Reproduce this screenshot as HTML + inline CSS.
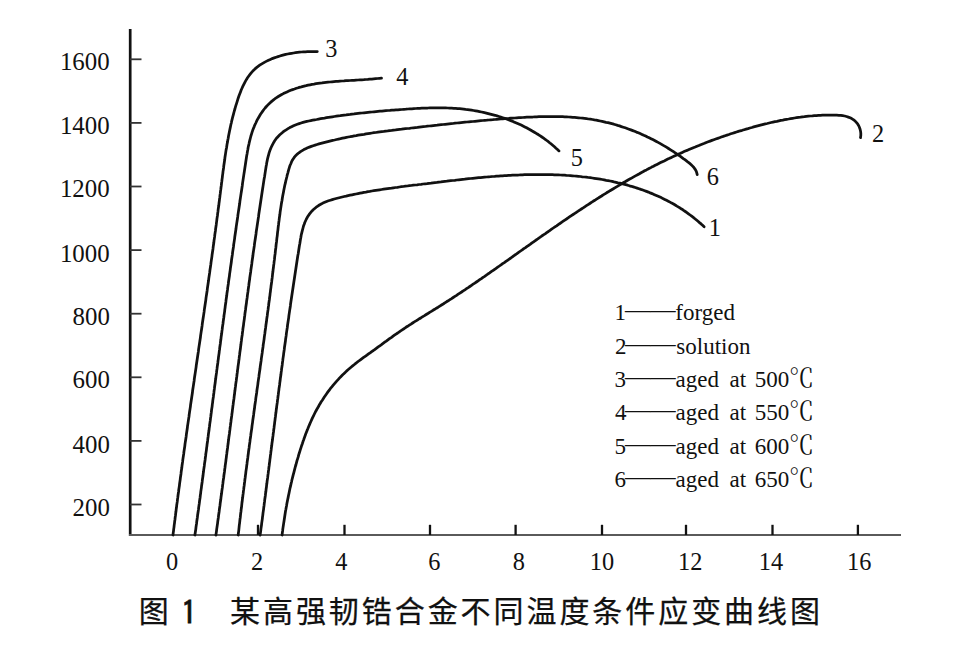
<!DOCTYPE html>
<html><head><meta charset="utf-8"><style>
html,body{margin:0;padding:0;background:#fff;}
svg{display:block;}
text{fill:#111;}
</style></head><body>
<svg width="970" height="653" viewBox="0 0 970 653">
<rect width="970" height="653" fill="#fff"/>
<g stroke="#111" stroke-width="2" fill="none">
<line x1="130.2" y1="29" x2="130.2" y2="536" stroke-width="2.7"/>
<line x1="129" y1="534.9" x2="901" y2="534.9" stroke="#5a5a5a" stroke-width="2"/>
<line x1="130" y1="59.3" x2="141.5" y2="59.3" stroke="#333" stroke-width="1.8"/><line x1="130" y1="122.9" x2="141.5" y2="122.9" stroke="#333" stroke-width="1.8"/><line x1="130" y1="186.5" x2="141.5" y2="186.5" stroke="#333" stroke-width="1.8"/><line x1="130" y1="250.1" x2="141.5" y2="250.1" stroke="#333" stroke-width="1.8"/><line x1="130" y1="313.7" x2="141.5" y2="313.7" stroke="#333" stroke-width="1.8"/><line x1="130" y1="377.3" x2="141.5" y2="377.3" stroke="#333" stroke-width="1.8"/><line x1="130" y1="440.9" x2="141.5" y2="440.9" stroke="#333" stroke-width="1.8"/><line x1="130" y1="504.5" x2="141.5" y2="504.5" stroke="#333" stroke-width="1.8"/><line x1="258.0" y1="535" x2="258.0" y2="524.8" stroke-width="2.3"/><line x1="344.5" y1="535" x2="344.5" y2="524.8" stroke-width="2.3"/><line x1="430.0" y1="535" x2="430.0" y2="524.8" stroke-width="2.3"/><line x1="515.6" y1="535" x2="515.6" y2="524.8" stroke-width="2.3"/><line x1="602.0" y1="535" x2="602.0" y2="524.8" stroke-width="2.3"/><line x1="686.0" y1="535" x2="686.0" y2="524.8" stroke-width="2.3"/><line x1="772.5" y1="535" x2="772.5" y2="524.8" stroke-width="2.3"/><line x1="857.9" y1="535" x2="857.9" y2="524.8" stroke-width="2.3"/>
</g>
<g stroke="#111" stroke-width="2.75" fill="none" stroke-linecap="round" stroke-linejoin="round">
<path d="M173.0,535.0 L173.2,533.0 L173.5,531.1 L173.7,529.1 L174.0,527.1 L174.2,525.1 L174.5,523.1 L174.7,521.2 L175.0,519.2 L175.2,517.2 L175.5,515.2 L175.7,513.3 L176.0,511.3 L176.2,509.3 L176.5,507.3 L176.7,505.3 L177.0,503.4 L177.3,501.4 L177.5,499.4 L177.8,497.4 L178.0,495.5 L178.3,493.5 L178.6,491.5 L178.8,489.5 L179.1,487.6 L179.4,485.6 L179.6,483.6 L179.9,481.6 L180.2,479.6 L180.4,477.7 L180.7,475.7 L181.0,473.7 L181.2,471.7 L181.5,469.8 L181.8,467.8 L182.0,465.8 L182.3,463.8 L182.6,461.9 L182.8,459.9 L183.1,457.9 L183.4,455.9 L183.7,454.0 L183.9,452.0 L184.2,450.0 L184.5,448.0 L184.8,446.1 L185.0,444.1 L185.3,442.1 L185.6,440.2 L185.9,438.2 L186.2,436.2 L186.4,434.2 L186.7,432.3 L187.0,430.3 L187.3,428.3 L187.5,426.3 L187.8,424.4 L188.1,422.4 L188.4,420.4 L188.7,418.4 L189.0,416.5 L189.2,414.5 L189.5,412.5 L189.8,410.5 L190.1,408.6 L190.4,406.6 L190.6,404.6 L190.9,402.7 L191.2,400.7 L191.5,398.7 L191.8,396.7 L192.1,394.8 L192.4,392.8 L192.6,390.8 L192.9,388.8 L193.2,386.9 L193.5,384.9 L193.8,382.9 L194.1,381.0 L194.3,379.0 L194.6,377.0 L194.9,375.0 L195.2,373.1 L195.5,371.1 L195.8,369.1 L196.1,367.1 L196.3,365.2 L196.6,363.2 L196.9,361.2 L197.2,359.3 L197.5,357.3 L197.8,355.3 L198.1,353.3 L198.4,351.4 L198.6,349.4 L198.9,347.4 L199.2,345.4 L199.5,343.5 L199.8,341.5 L200.1,339.5 L200.4,337.6 L200.6,335.6 L200.9,333.6 L201.2,331.6 L201.5,329.7 L201.8,327.7 L202.1,325.7 L202.3,323.8 L202.6,321.8 L202.9,319.8 L203.2,317.8 L203.5,315.9 L203.8,313.9 L204.1,311.9 L204.3,309.9 L204.6,308.0 L204.9,306.0 L205.2,304.0 L205.5,302.0 L205.8,300.1 L206.0,298.1 L206.3,296.1 L206.6,294.2 L206.9,292.2 L207.2,290.2 L207.4,288.2 L207.7,286.3 L208.0,284.3 L208.3,282.3 L208.6,280.3 L208.8,278.4 L209.1,276.4 L209.4,274.4 L209.7,272.4 L209.9,270.5 L210.2,268.5 L210.5,266.5 L210.8,264.5 L211.0,262.6 L211.3,260.6 L211.6,258.6 L211.9,256.6 L212.1,254.7 L212.4,252.7 L212.7,250.7 L213.0,248.7 L213.2,246.8 L213.5,244.8 L213.8,242.8 L214.0,240.8 L214.3,238.9 L214.6,236.9 L214.8,234.9 L215.1,232.9 L215.4,231.0 L215.6,229.0 L215.9,227.0 L216.2,225.0 L216.4,223.1 L216.7,221.1 L216.9,219.1 L217.2,217.1 L217.5,215.2 L217.7,213.2 L218.0,211.2 L218.2,209.2 L218.5,207.2 L218.8,205.3 L219.0,203.3 L219.3,201.3 L219.5,199.3 L219.8,197.4 L220.0,195.4 L220.3,193.4 L220.5,191.4 L220.8,189.4 L221.0,187.5 L221.3,185.5 L221.5,183.5 L221.8,181.5 L222.0,179.6 L222.3,177.6 L222.5,175.6 L222.8,173.6 L223.0,171.6 L223.3,169.7 L223.6,167.7 L223.8,165.7 L224.1,163.7 L224.4,161.8 L224.7,159.8 L224.9,157.8 L225.2,155.8 L225.5,153.9 L225.8,151.9 L226.1,149.9 L226.5,148.0 L226.8,146.0 L227.1,144.0 L227.5,142.1 L227.8,140.1 L228.2,138.2 L228.5,136.2 L228.9,134.3 L229.3,132.3 L229.7,130.3 L230.1,128.4 L230.5,126.5 L230.9,124.5 L231.4,122.6 L231.8,120.6 L232.3,118.7 L232.8,116.7 L233.3,114.8 L233.8,112.9 L234.3,111.0 L234.9,109.0 L235.4,107.1 L236.0,105.2 L236.6,103.3 L237.2,101.4 L237.8,99.4 L238.4,97.5 L239.1,95.6 L239.8,93.8 L240.5,91.9 L241.2,90.0 L242.0,88.2 L242.8,86.4 L243.7,84.6 L244.6,82.8 L245.5,81.1 L246.5,79.4 L247.5,77.8 L248.6,76.2 L249.8,74.6 L251.0,73.1 L252.3,71.6 L253.6,70.2 L255.0,68.9 L256.5,67.6 L258.1,66.4 L259.7,65.2 L261.4,64.1 L263.1,63.1 L264.8,62.1 L266.7,61.1 L268.5,60.2 L270.4,59.4 L272.2,58.6 L274.2,57.9 L276.1,57.2 L278.0,56.6 L279.9,56.0 L281.9,55.4 L283.8,54.9 L285.7,54.4 L287.7,54.0 L289.7,53.6 L291.6,53.3 L293.6,53.0 L295.5,52.7 L297.5,52.4 L299.5,52.2 L301.4,52.0 L303.4,51.9 L305.4,51.8 L307.4,51.7 L309.3,51.6 L311.3,51.5 L313.3,51.5 L315.3,51.5 L317.3,51.5"/>
<path d="M194.9,535.0 L195.2,533.0 L195.5,531.0 L195.8,529.1 L196.0,527.1 L196.3,525.1 L196.6,523.2 L196.8,521.2 L197.1,519.2 L197.4,517.2 L197.6,515.3 L197.9,513.3 L198.2,511.3 L198.5,509.4 L198.7,507.4 L199.0,505.4 L199.3,503.4 L199.5,501.5 L199.8,499.5 L200.1,497.5 L200.3,495.5 L200.6,493.6 L200.8,491.6 L201.1,489.6 L201.4,487.6 L201.6,485.7 L201.9,483.7 L202.2,481.7 L202.4,479.7 L202.7,477.8 L203.0,475.8 L203.2,473.8 L203.5,471.8 L203.7,469.9 L204.0,467.9 L204.3,465.9 L204.5,463.9 L204.8,462.0 L205.1,460.0 L205.3,458.0 L205.6,456.0 L205.8,454.0 L206.1,452.1 L206.4,450.1 L206.6,448.1 L206.9,446.1 L207.1,444.2 L207.4,442.2 L207.7,440.2 L207.9,438.2 L208.2,436.2 L208.4,434.3 L208.7,432.3 L209.0,430.3 L209.2,428.3 L209.5,426.4 L209.7,424.4 L210.0,422.4 L210.3,420.4 L210.5,418.4 L210.8,416.5 L211.0,414.5 L211.3,412.5 L211.5,410.5 L211.8,408.5 L212.1,406.6 L212.3,404.6 L212.6,402.6 L212.8,400.6 L213.1,398.6 L213.4,396.7 L213.6,394.7 L213.9,392.7 L214.1,390.7 L214.4,388.7 L214.6,386.8 L214.9,384.8 L215.2,382.8 L215.4,380.8 L215.7,378.8 L215.9,376.9 L216.2,374.9 L216.5,372.9 L216.7,370.9 L217.0,368.9 L217.2,367.0 L217.5,365.0 L217.8,363.0 L218.0,361.0 L218.3,359.1 L218.5,357.1 L218.8,355.1 L219.1,353.1 L219.3,351.1 L219.6,349.2 L219.8,347.2 L220.1,345.2 L220.4,343.2 L220.6,341.2 L220.9,339.3 L221.1,337.3 L221.4,335.3 L221.7,333.3 L221.9,331.4 L222.2,329.4 L222.4,327.4 L222.7,325.4 L223.0,323.5 L223.2,321.5 L223.5,319.5 L223.8,317.5 L224.0,315.5 L224.3,313.6 L224.6,311.6 L224.8,309.6 L225.1,307.6 L225.3,305.7 L225.6,303.7 L225.9,301.7 L226.1,299.7 L226.4,297.8 L226.7,295.8 L226.9,293.8 L227.2,291.8 L227.5,289.9 L227.7,287.9 L228.0,285.9 L228.3,284.0 L228.5,282.0 L228.8,280.0 L229.1,278.0 L229.4,276.1 L229.6,274.1 L229.9,272.1 L230.2,270.1 L230.4,268.2 L230.7,266.2 L231.0,264.2 L231.3,262.3 L231.5,260.3 L231.8,258.3 L232.1,256.4 L232.4,254.4 L232.6,252.4 L232.9,250.4 L233.2,248.5 L233.5,246.5 L233.7,244.5 L234.0,242.6 L234.3,240.6 L234.6,238.6 L234.8,236.7 L235.1,234.7 L235.4,232.7 L235.7,230.8 L236.0,228.8 L236.2,226.9 L236.5,224.9 L236.8,222.9 L237.1,221.0 L237.4,219.0 L237.7,217.0 L237.9,215.1 L238.2,213.1 L238.5,211.1 L238.8,209.2 L239.1,207.2 L239.4,205.2 L239.7,203.3 L239.9,201.3 L240.2,199.3 L240.5,197.4 L240.8,195.4 L241.1,193.4 L241.4,191.5 L241.7,189.5 L242.0,187.5 L242.3,185.5 L242.5,183.6 L242.8,181.6 L243.1,179.6 L243.4,177.6 L243.7,175.6 L244.0,173.6 L244.3,171.7 L244.6,169.7 L244.9,167.7 L245.2,165.7 L245.5,163.7 L245.8,161.7 L246.1,159.7 L246.4,157.7 L246.7,155.7 L247.1,153.7 L247.4,151.7 L247.8,149.7 L248.1,147.7 L248.5,145.8 L249.0,143.8 L249.4,141.9 L249.9,139.9 L250.4,138.0 L250.9,136.0 L251.5,134.1 L252.1,132.2 L252.7,130.3 L253.4,128.5 L254.2,126.6 L254.9,124.8 L255.8,123.0 L256.6,121.2 L257.5,119.4 L258.5,117.7 L259.5,116.0 L260.5,114.3 L261.6,112.7 L262.7,111.1 L263.9,109.5 L265.1,108.0 L266.4,106.5 L267.7,105.1 L269.1,103.7 L270.5,102.4 L272.0,101.1 L273.5,99.9 L275.0,98.7 L276.6,97.6 L278.3,96.5 L280.0,95.5 L281.7,94.5 L283.4,93.6 L285.2,92.7 L287.0,91.9 L288.9,91.1 L290.7,90.3 L292.6,89.6 L294.5,89.0 L296.4,88.3 L298.4,87.7 L300.3,87.2 L302.2,86.6 L304.2,86.1 L306.1,85.7 L308.1,85.2 L310.1,84.8 L312.0,84.4 L314.0,84.1 L316.0,83.7 L318.0,83.4 L320.0,83.1 L322.0,82.9 L324.0,82.6 L326.0,82.4 L328.0,82.2 L330.0,82.0 L332.0,81.8 L334.0,81.6 L336.0,81.4 L338.0,81.3 L340.0,81.1 L342.0,81.0 L344.0,80.9 L346.0,80.7 L348.0,80.6 L350.0,80.5 L352.0,80.4 L354.0,80.3 L356.0,80.1 L358.0,80.0 L359.9,79.9 L361.9,79.8 L363.9,79.7 L365.9,79.5 L367.8,79.4 L369.8,79.2 L371.8,79.1 L373.7,78.9 L375.7,78.7 L377.6,78.5 L379.5,78.3 L381.5,78.1"/>
<path d="M215.9,535.1 L216.2,533.1 L216.5,531.1 L216.7,529.1 L217.0,527.1 L217.3,525.1 L217.6,523.1 L217.8,521.1 L218.1,519.2 L218.4,517.2 L218.6,515.2 L218.9,513.2 L219.2,511.2 L219.4,509.2 L219.7,507.2 L220.0,505.2 L220.2,503.3 L220.5,501.3 L220.8,499.3 L221.0,497.3 L221.3,495.3 L221.6,493.3 L221.8,491.3 L222.1,489.4 L222.4,487.4 L222.6,485.4 L222.9,483.4 L223.1,481.4 L223.4,479.4 L223.7,477.5 L223.9,475.5 L224.2,473.5 L224.5,471.5 L224.7,469.5 L225.0,467.5 L225.2,465.6 L225.5,463.6 L225.8,461.6 L226.0,459.6 L226.3,457.6 L226.5,455.6 L226.8,453.7 L227.0,451.7 L227.3,449.7 L227.6,447.7 L227.8,445.7 L228.1,443.8 L228.3,441.8 L228.6,439.8 L228.8,437.8 L229.1,435.8 L229.4,433.9 L229.6,431.9 L229.9,429.9 L230.1,427.9 L230.4,425.9 L230.6,424.0 L230.9,422.0 L231.1,420.0 L231.4,418.0 L231.7,416.0 L231.9,414.1 L232.2,412.1 L232.4,410.1 L232.7,408.1 L232.9,406.1 L233.2,404.2 L233.4,402.2 L233.7,400.2 L234.0,398.2 L234.2,396.3 L234.5,394.3 L234.7,392.3 L235.0,390.3 L235.2,388.3 L235.5,386.4 L235.7,384.4 L236.0,382.4 L236.3,380.4 L236.5,378.5 L236.8,376.5 L237.0,374.5 L237.3,372.5 L237.5,370.5 L237.8,368.6 L238.0,366.6 L238.3,364.6 L238.6,362.6 L238.8,360.7 L239.1,358.7 L239.3,356.7 L239.6,354.7 L239.8,352.8 L240.1,350.8 L240.4,348.8 L240.6,346.8 L240.9,344.8 L241.1,342.9 L241.4,340.9 L241.6,338.9 L241.9,336.9 L242.2,335.0 L242.4,333.0 L242.7,331.0 L242.9,329.0 L243.2,327.0 L243.5,325.1 L243.7,323.1 L244.0,321.1 L244.3,319.1 L244.5,317.2 L244.8,315.2 L245.0,313.2 L245.3,311.2 L245.6,309.2 L245.8,307.3 L246.1,305.3 L246.4,303.3 L246.6,301.3 L246.9,299.4 L247.2,297.4 L247.4,295.4 L247.7,293.4 L248.0,291.4 L248.2,289.5 L248.5,287.5 L248.8,285.5 L249.0,283.5 L249.3,281.5 L249.6,279.6 L249.8,277.6 L250.1,275.6 L250.4,273.6 L250.7,271.7 L250.9,269.7 L251.2,267.7 L251.5,265.7 L251.8,263.7 L252.0,261.8 L252.3,259.8 L252.6,257.8 L252.9,255.8 L253.1,253.8 L253.4,251.8 L253.7,249.9 L254.0,247.9 L254.3,245.9 L254.5,243.9 L254.8,241.9 L255.1,240.0 L255.4,238.0 L255.7,236.0 L256.0,234.0 L256.2,232.0 L256.5,230.0 L256.8,228.1 L257.1,226.1 L257.4,224.1 L257.7,222.1 L258.0,220.1 L258.3,218.1 L258.6,216.2 L258.8,214.2 L259.1,212.2 L259.4,210.2 L259.7,208.2 L260.0,206.2 L260.3,204.2 L260.6,202.3 L260.9,200.3 L261.2,198.3 L261.5,196.3 L261.8,194.3 L262.1,192.3 L262.4,190.3 L262.7,188.3 L263.0,186.4 L263.3,184.4 L263.6,182.4 L263.9,180.4 L264.2,178.4 L264.6,176.4 L264.9,174.4 L265.2,172.4 L265.5,170.4 L265.8,168.5 L266.1,166.5 L266.5,164.5 L266.8,162.5 L267.2,160.6 L267.6,158.6 L268.1,156.7 L268.6,154.8 L269.1,152.9 L269.7,151.1 L270.4,149.3 L271.1,147.5 L271.9,145.8 L272.8,144.1 L273.7,142.4 L274.7,140.8 L275.8,139.2 L277.0,137.7 L278.4,136.2 L279.8,134.8 L281.3,133.5 L282.8,132.2 L284.5,130.9 L286.2,129.8 L288.0,128.7 L289.8,127.6 L291.6,126.7 L293.5,125.8 L295.4,125.0 L297.3,124.3 L299.2,123.6 L301.1,123.0 L303.0,122.4 L304.9,121.9 L306.9,121.4 L308.8,121.0 L310.8,120.6 L312.7,120.2 L314.7,119.8 L316.6,119.5 L318.6,119.1 L320.6,118.7 L322.5,118.4 L324.5,118.1 L326.5,117.7 L328.4,117.4 L330.4,117.1 L332.4,116.8 L334.3,116.5 L336.3,116.2 L338.3,115.9 L340.3,115.7 L342.2,115.4 L344.2,115.1 L346.2,114.9 L348.2,114.6 L350.1,114.4 L352.1,114.1 L354.1,113.9 L356.1,113.6 L358.1,113.4 L360.1,113.2 L362.0,113.0 L364.0,112.8 L366.0,112.6 L368.0,112.4 L370.0,112.2 L372.0,112.0 L374.0,111.8 L376.0,111.6 L378.0,111.4 L379.9,111.2 L381.9,111.1 L383.9,110.9 L385.9,110.7 L387.9,110.5 L389.9,110.4 L391.9,110.2 L393.9,110.1 L395.9,109.9 L397.9,109.8 L399.9,109.6 L401.9,109.5 L403.9,109.3 L405.9,109.2 L407.9,109.0 L409.8,108.9 L411.8,108.8 L413.8,108.6 L415.8,108.5 L417.8,108.4 L419.8,108.3 L421.8,108.2 L423.8,108.1 L425.8,108.0 L427.8,108.0 L429.8,107.9 L431.8,107.9 L433.8,107.8 L435.8,107.8 L437.8,107.8 L439.8,107.8 L441.7,107.8 L443.7,107.9 L445.7,107.9 L447.7,108.0 L449.7,108.1 L451.7,108.2 L453.7,108.3 L455.7,108.4 L457.7,108.6 L459.7,108.7 L461.7,108.9 L463.7,109.1 L465.6,109.4 L467.6,109.6 L469.6,109.9 L471.6,110.2 L473.6,110.5 L475.6,110.8 L477.5,111.2 L479.5,111.6 L481.5,112.0 L483.4,112.4 L485.4,112.8 L487.3,113.3 L489.3,113.8 L491.2,114.3 L493.2,114.8 L495.1,115.3 L497.0,115.9 L498.9,116.5 L500.8,117.1 L502.7,117.7 L504.6,118.3 L506.5,119.0 L508.4,119.7 L510.2,120.4 L512.1,121.1 L513.9,121.9 L515.8,122.7 L517.6,123.5 L519.4,124.3 L521.2,125.1 L523.0,126.0 L524.8,126.9 L526.6,127.8 L528.3,128.7 L530.1,129.7 L531.8,130.7 L533.5,131.7 L535.2,132.7 L536.9,133.8 L538.6,134.8 L540.3,135.9 L541.9,137.0 L543.6,138.2 L545.2,139.3 L546.8,140.5 L548.4,141.7 L549.9,143.0 L551.5,144.2 L553.0,145.5 L554.5,146.8 L556.0,148.2 L557.5,149.5 L559.0,150.9"/>
<path d="M238.2,535.0 L238.4,533.0 L238.7,531.1 L238.9,529.1 L239.1,527.1 L239.3,525.1 L239.6,523.1 L239.8,521.1 L240.0,519.2 L240.3,517.2 L240.5,515.2 L240.7,513.2 L241.0,511.2 L241.2,509.2 L241.5,507.3 L241.7,505.3 L241.9,503.3 L242.2,501.3 L242.4,499.3 L242.7,497.3 L242.9,495.4 L243.2,493.4 L243.4,491.4 L243.7,489.4 L243.9,487.4 L244.2,485.5 L244.4,483.5 L244.7,481.5 L244.9,479.5 L245.2,477.5 L245.4,475.6 L245.7,473.6 L245.9,471.6 L246.2,469.6 L246.5,467.6 L246.7,465.7 L247.0,463.7 L247.2,461.7 L247.5,459.7 L247.8,457.7 L248.0,455.8 L248.3,453.8 L248.5,451.8 L248.8,449.8 L249.1,447.9 L249.3,445.9 L249.6,443.9 L249.9,441.9 L250.1,439.9 L250.4,438.0 L250.7,436.0 L250.9,434.0 L251.2,432.0 L251.5,430.1 L251.8,428.1 L252.0,426.1 L252.3,424.1 L252.6,422.1 L252.8,420.2 L253.1,418.2 L253.4,416.2 L253.7,414.2 L253.9,412.3 L254.2,410.3 L254.5,408.3 L254.7,406.3 L255.0,404.3 L255.3,402.4 L255.6,400.4 L255.8,398.4 L256.1,396.4 L256.4,394.5 L256.7,392.5 L256.9,390.5 L257.2,388.5 L257.5,386.6 L257.8,384.6 L258.0,382.6 L258.3,380.6 L258.6,378.6 L258.9,376.7 L259.1,374.7 L259.4,372.7 L259.7,370.7 L260.0,368.8 L260.2,366.8 L260.5,364.8 L260.8,362.8 L261.1,360.9 L261.3,358.9 L261.6,356.9 L261.9,354.9 L262.2,352.9 L262.4,351.0 L262.7,349.0 L263.0,347.0 L263.2,345.0 L263.5,343.1 L263.8,341.1 L264.1,339.1 L264.3,337.1 L264.6,335.1 L264.9,333.2 L265.1,331.2 L265.4,329.2 L265.7,327.2 L265.9,325.3 L266.2,323.3 L266.5,321.3 L266.7,319.3 L267.0,317.3 L267.3,315.4 L267.5,313.4 L267.8,311.4 L268.1,309.4 L268.3,307.4 L268.6,305.5 L268.8,303.5 L269.1,301.5 L269.4,299.5 L269.6,297.5 L269.9,295.6 L270.1,293.6 L270.4,291.6 L270.6,289.6 L270.9,287.6 L271.1,285.7 L271.4,283.7 L271.7,281.7 L271.9,279.7 L272.2,277.7 L272.4,275.8 L272.6,273.8 L272.9,271.8 L273.1,269.8 L273.4,267.8 L273.6,265.8 L273.9,263.9 L274.1,261.9 L274.4,259.9 L274.6,257.9 L274.8,255.9 L275.1,254.0 L275.3,252.0 L275.5,250.0 L275.8,248.0 L276.0,246.0 L276.2,244.0 L276.5,242.0 L276.7,240.1 L276.9,238.1 L277.2,236.1 L277.4,234.1 L277.6,232.1 L277.9,230.1 L278.1,228.2 L278.3,226.2 L278.6,224.2 L278.8,222.2 L279.1,220.2 L279.3,218.3 L279.6,216.3 L279.9,214.3 L280.1,212.3 L280.4,210.3 L280.7,208.4 L281.0,206.4 L281.3,204.4 L281.6,202.5 L282.0,200.5 L282.3,198.5 L282.6,196.6 L283.0,194.6 L283.4,192.6 L283.7,190.7 L284.1,188.7 L284.5,186.8 L284.9,184.8 L285.4,182.9 L285.8,180.9 L286.3,179.0 L286.8,177.0 L287.2,175.1 L287.8,173.1 L288.3,171.2 L288.8,169.3 L289.4,167.4 L290.0,165.5 L290.8,163.7 L291.5,161.9 L292.4,160.1 L293.5,158.5 L294.6,156.9 L295.9,155.4 L297.3,154.1 L298.9,152.8 L300.5,151.6 L302.2,150.6 L303.9,149.6 L305.7,148.7 L307.6,147.8 L309.4,147.1 L311.3,146.4 L313.2,145.7 L315.1,145.1 L317.1,144.5 L319.0,143.9 L320.9,143.4 L322.9,142.9 L324.8,142.4 L326.8,141.9 L328.8,141.4 L330.7,140.9 L332.7,140.4 L334.6,140.0 L336.6,139.5 L338.5,139.1 L340.5,138.7 L342.5,138.2 L344.4,137.8 L346.4,137.4 L348.3,137.0 L350.3,136.7 L352.3,136.3 L354.2,135.9 L356.2,135.6 L358.2,135.2 L360.1,134.9 L362.1,134.6 L364.1,134.3 L366.0,133.9 L368.0,133.6 L370.0,133.3 L372.0,133.0 L373.9,132.7 L375.9,132.5 L377.9,132.2 L379.8,131.9 L381.8,131.6 L383.8,131.4 L385.8,131.1 L387.7,130.9 L389.7,130.6 L391.7,130.4 L393.7,130.1 L395.6,129.9 L397.6,129.6 L399.6,129.4 L401.6,129.2 L403.6,128.9 L405.5,128.7 L407.5,128.5 L409.5,128.3 L411.5,128.0 L413.4,127.8 L415.4,127.6 L417.4,127.4 L419.4,127.1 L421.4,126.9 L423.3,126.7 L425.3,126.5 L427.3,126.2 L429.3,126.0 L431.3,125.8 L433.2,125.6 L435.2,125.4 L437.2,125.2 L439.2,124.9 L441.2,124.7 L443.1,124.5 L445.1,124.3 L447.1,124.1 L449.1,123.9 L451.1,123.7 L453.0,123.5 L455.0,123.2 L457.0,123.0 L459.0,122.8 L461.0,122.6 L463.0,122.4 L465.0,122.2 L466.9,122.0 L468.9,121.8 L470.9,121.6 L472.9,121.5 L474.9,121.3 L476.9,121.1 L478.9,120.9 L480.8,120.7 L482.8,120.5 L484.8,120.3 L486.8,120.2 L488.8,120.0 L490.8,119.8 L492.8,119.7 L494.8,119.5 L496.8,119.3 L498.8,119.2 L500.8,119.0 L502.8,118.8 L504.8,118.7 L506.8,118.5 L508.8,118.4 L510.8,118.2 L512.8,118.1 L514.8,118.0 L516.8,117.8 L518.8,117.7 L520.8,117.6 L522.8,117.5 L524.8,117.3 L526.8,117.2 L528.8,117.1 L530.8,117.0 L532.8,117.0 L534.8,116.9 L536.8,116.8 L538.8,116.7 L540.8,116.7 L542.8,116.6 L544.8,116.6 L546.8,116.6 L548.8,116.5 L550.8,116.5 L552.8,116.5 L554.8,116.6 L556.8,116.6 L558.8,116.6 L560.8,116.7 L562.7,116.7 L564.7,116.8 L566.7,116.9 L568.7,117.0 L570.7,117.1 L572.7,117.3 L574.7,117.4 L576.6,117.6 L578.6,117.8 L580.6,118.0 L582.6,118.2 L584.5,118.4 L586.5,118.7 L588.5,119.0 L590.4,119.2 L592.4,119.5 L594.4,119.9 L596.3,120.2 L598.3,120.6 L600.2,121.0 L602.2,121.4 L604.1,121.8 L606.0,122.3 L608.0,122.7 L609.9,123.2 L611.8,123.7 L613.8,124.2 L615.7,124.8 L617.6,125.4 L619.5,125.9 L621.4,126.6 L623.3,127.2 L625.2,127.8 L627.1,128.5 L629.0,129.2 L630.9,129.9 L632.7,130.6 L634.6,131.3 L636.4,132.1 L638.3,132.8 L640.1,133.6 L642.0,134.4 L643.8,135.3 L645.6,136.1 L647.4,137.0 L649.2,137.8 L651.0,138.7 L652.8,139.6 L654.6,140.5 L656.4,141.5 L658.1,142.4 L659.9,143.4 L661.6,144.4 L663.3,145.4 L665.1,146.4 L666.8,147.4 L668.5,148.5 L670.2,149.6 L671.8,150.6 L673.5,151.7 L675.2,152.8 L676.8,153.9 L678.5,155.1 L680.1,156.2 L681.7,157.4 L683.3,158.6 L684.9,159.7 L686.5,160.9 L688.1,162.2 L689.7,163.4 L691.2,164.7 L692.6,166.1 L693.9,167.5 L695.0,169.1 L696.0,170.7 L696.7,172.6 L697.2,174.6"/>
<path d="M260.1,535.1 L260.4,533.1 L260.7,531.1 L260.9,529.1 L261.2,527.1 L261.5,525.1 L261.7,523.1 L262.0,521.1 L262.3,519.1 L262.5,517.1 L262.8,515.1 L263.0,513.1 L263.3,511.1 L263.6,509.1 L263.8,507.2 L264.1,505.2 L264.3,503.2 L264.6,501.2 L264.8,499.2 L265.1,497.2 L265.4,495.2 L265.6,493.2 L265.9,491.3 L266.1,489.3 L266.4,487.3 L266.6,485.3 L266.9,483.3 L267.1,481.3 L267.4,479.4 L267.7,477.4 L267.9,475.4 L268.2,473.4 L268.4,471.4 L268.7,469.5 L268.9,467.5 L269.2,465.5 L269.4,463.5 L269.7,461.6 L269.9,459.6 L270.2,457.6 L270.4,455.6 L270.7,453.7 L270.9,451.7 L271.2,449.7 L271.4,447.7 L271.7,445.8 L271.9,443.8 L272.2,441.8 L272.5,439.8 L272.7,437.9 L273.0,435.9 L273.2,433.9 L273.5,432.0 L273.7,430.0 L274.0,428.0 L274.2,426.1 L274.5,424.1 L274.7,422.1 L275.0,420.1 L275.2,418.2 L275.5,416.2 L275.7,414.2 L276.0,412.3 L276.2,410.3 L276.5,408.3 L276.7,406.4 L277.0,404.4 L277.3,402.4 L277.5,400.4 L277.8,398.5 L278.0,396.5 L278.3,394.5 L278.5,392.6 L278.8,390.6 L279.0,388.6 L279.3,386.7 L279.6,384.7 L279.8,382.7 L280.1,380.8 L280.3,378.8 L280.6,376.8 L280.9,374.8 L281.1,372.9 L281.4,370.9 L281.6,368.9 L281.9,367.0 L282.2,365.0 L282.4,363.0 L282.7,361.0 L282.9,359.1 L283.2,357.1 L283.5,355.1 L283.7,353.2 L284.0,351.2 L284.3,349.2 L284.5,347.2 L284.8,345.3 L285.1,343.3 L285.4,341.3 L285.6,339.3 L285.9,337.4 L286.2,335.4 L286.4,333.4 L286.7,331.4 L287.0,329.4 L287.3,327.5 L287.5,325.5 L287.8,323.5 L288.1,321.5 L288.4,319.6 L288.7,317.6 L288.9,315.6 L289.2,313.6 L289.5,311.6 L289.8,309.6 L290.1,307.7 L290.4,305.7 L290.6,303.7 L290.9,301.7 L291.2,299.7 L291.5,297.7 L291.8,295.7 L292.1,293.7 L292.4,291.8 L292.7,289.8 L293.0,287.8 L293.3,285.8 L293.6,283.8 L293.9,281.8 L294.2,279.8 L294.5,277.8 L294.8,275.8 L295.1,273.8 L295.4,271.8 L295.7,269.8 L296.0,267.8 L296.3,265.8 L296.6,263.8 L296.9,261.8 L297.2,259.8 L297.5,257.8 L297.8,255.8 L298.2,253.8 L298.5,251.8 L298.8,249.8 L299.1,247.8 L299.4,245.8 L299.8,243.8 L300.1,241.7 L300.4,239.7 L300.8,237.7 L301.1,235.7 L301.5,233.8 L302.0,231.8 L302.5,229.9 L303.0,228.0 L303.5,226.1 L304.2,224.3 L304.8,222.5 L305.6,220.7 L306.4,219.0 L307.3,217.3 L308.3,215.7 L309.4,214.1 L310.6,212.6 L311.8,211.2 L313.2,209.8 L314.7,208.5 L316.2,207.2 L317.8,206.1 L319.4,205.0 L321.2,204.0 L322.9,203.1 L324.7,202.3 L326.6,201.5 L328.5,200.8 L330.4,200.2 L332.3,199.6 L334.3,199.0 L336.2,198.5 L338.2,198.0 L340.2,197.5 L342.2,197.0 L344.2,196.5 L346.1,196.1 L348.1,195.6 L350.1,195.2 L352.1,194.8 L354.0,194.4 L356.0,194.0 L358.0,193.6 L360.0,193.2 L361.9,192.8 L363.9,192.4 L365.9,192.1 L367.9,191.7 L369.8,191.4 L371.8,191.0 L373.8,190.7 L375.8,190.4 L377.7,190.1 L379.7,189.8 L381.7,189.5 L383.6,189.2 L385.6,188.9 L387.6,188.6 L389.5,188.3 L391.5,188.1 L393.5,187.8 L395.5,187.5 L397.4,187.3 L399.4,187.0 L401.4,186.7 L403.3,186.5 L405.3,186.2 L407.3,186.0 L409.3,185.7 L411.2,185.5 L413.2,185.2 L415.2,185.0 L417.1,184.8 L419.1,184.5 L421.1,184.3 L423.1,184.0 L425.1,183.8 L427.0,183.6 L429.0,183.3 L431.0,183.1 L433.0,182.8 L434.9,182.6 L436.9,182.4 L438.9,182.1 L440.9,181.9 L442.9,181.6 L444.9,181.4 L446.8,181.2 L448.8,180.9 L450.8,180.7 L452.8,180.5 L454.8,180.3 L456.8,180.0 L458.8,179.8 L460.7,179.6 L462.7,179.4 L464.7,179.2 L466.7,178.9 L468.7,178.7 L470.7,178.5 L472.7,178.3 L474.7,178.1 L476.7,177.9 L478.6,177.7 L480.6,177.6 L482.6,177.4 L484.6,177.2 L486.6,177.0 L488.6,176.8 L490.6,176.7 L492.6,176.5 L494.6,176.4 L496.6,176.2 L498.6,176.1 L500.6,175.9 L502.6,175.8 L504.5,175.7 L506.5,175.6 L508.5,175.4 L510.5,175.3 L512.5,175.2 L514.5,175.1 L516.5,175.0 L518.5,175.0 L520.5,174.9 L522.5,174.8 L524.5,174.7 L526.5,174.7 L528.5,174.6 L530.5,174.6 L532.5,174.6 L534.5,174.5 L536.5,174.5 L538.5,174.5 L540.5,174.5 L542.5,174.5 L544.5,174.5 L546.5,174.6 L548.4,174.6 L550.4,174.7 L552.4,174.7 L554.4,174.8 L556.4,174.8 L558.4,174.9 L560.4,175.0 L562.4,175.1 L564.4,175.2 L566.4,175.4 L568.4,175.5 L570.4,175.6 L572.4,175.8 L574.4,176.0 L576.4,176.1 L578.4,176.3 L580.4,176.5 L582.3,176.8 L584.3,177.0 L586.3,177.2 L588.3,177.5 L590.3,177.7 L592.3,178.0 L594.3,178.3 L596.3,178.6 L598.3,178.9 L600.2,179.2 L602.2,179.5 L604.2,179.9 L606.2,180.3 L608.1,180.6 L610.1,181.0 L612.1,181.4 L614.0,181.9 L616.0,182.3 L617.9,182.8 L619.9,183.2 L621.8,183.7 L623.7,184.2 L625.7,184.7 L627.6,185.2 L629.5,185.8 L631.4,186.3 L633.3,186.9 L635.3,187.5 L637.1,188.1 L639.0,188.7 L640.9,189.4 L642.8,190.0 L644.7,190.7 L646.5,191.4 L648.4,192.1 L650.2,192.9 L652.1,193.6 L653.9,194.4 L655.7,195.2 L657.6,196.0 L659.4,196.8 L661.2,197.6 L662.9,198.5 L664.7,199.4 L666.5,200.3 L668.3,201.2 L670.0,202.1 L671.7,203.1 L673.5,204.0 L675.2,205.0 L676.9,206.1 L678.6,207.1 L680.3,208.2 L682.0,209.2 L683.6,210.4 L685.3,211.5 L686.9,212.6 L688.5,213.8 L690.1,215.0 L691.7,216.2 L693.3,217.4 L694.9,218.7 L696.5,220.0 L698.0,221.3 L699.5,222.6 L701.1,223.9 L702.6,225.3 L704.1,226.7"/>
<path d="M282.1,535.0 L282.3,533.0 L282.6,531.0 L282.8,529.1 L283.1,527.1 L283.4,525.1 L283.7,523.1 L284.0,521.2 L284.3,519.2 L284.6,517.2 L284.9,515.3 L285.2,513.3 L285.5,511.3 L285.9,509.3 L286.2,507.4 L286.6,505.4 L286.9,503.5 L287.3,501.5 L287.7,499.5 L288.1,497.6 L288.5,495.6 L288.9,493.7 L289.3,491.7 L289.7,489.8 L290.1,487.8 L290.6,485.9 L291.0,483.9 L291.5,482.0 L291.9,480.0 L292.4,478.1 L292.9,476.1 L293.4,474.2 L293.9,472.3 L294.4,470.3 L294.9,468.4 L295.4,466.5 L296.0,464.5 L296.5,462.6 L297.0,460.7 L297.6,458.8 L298.2,456.9 L298.7,454.9 L299.3,453.0 L299.9,451.1 L300.5,449.2 L301.1,447.3 L301.7,445.4 L302.4,443.5 L303.0,441.6 L303.7,439.7 L304.3,437.9 L305.0,436.0 L305.7,434.1 L306.4,432.2 L307.1,430.4 L307.9,428.5 L308.6,426.7 L309.4,424.9 L310.2,423.0 L311.0,421.2 L311.8,419.4 L312.6,417.6 L313.5,415.8 L314.4,414.0 L315.3,412.2 L316.2,410.5 L317.2,408.7 L318.2,407.0 L319.1,405.3 L320.2,403.5 L321.2,401.8 L322.3,400.2 L323.4,398.5 L324.5,396.8 L325.6,395.2 L326.8,393.5 L327.9,391.9 L329.1,390.3 L330.3,388.7 L331.6,387.2 L332.8,385.6 L334.1,384.1 L335.4,382.6 L336.7,381.1 L338.1,379.6 L339.4,378.1 L340.8,376.7 L342.2,375.3 L343.6,373.9 L345.1,372.5 L346.5,371.1 L348.0,369.8 L349.5,368.5 L351.0,367.2 L352.6,365.9 L354.1,364.7 L355.7,363.4 L357.2,362.2 L358.8,361.0 L360.4,359.8 L362.0,358.6 L363.6,357.4 L365.2,356.3 L366.9,355.1 L368.5,353.9 L370.1,352.8 L371.7,351.6 L373.4,350.5 L375.0,349.3 L376.6,348.1 L378.2,346.9 L379.8,345.8 L381.5,344.6 L383.1,343.4 L384.7,342.2 L386.3,341.1 L387.9,339.9 L389.5,338.7 L391.2,337.6 L392.8,336.4 L394.4,335.2 L396.0,334.1 L397.7,333.0 L399.3,331.8 L401.0,330.7 L402.6,329.6 L404.3,328.5 L405.9,327.3 L407.6,326.3 L409.3,325.2 L411.0,324.1 L412.6,323.0 L414.3,321.9 L416.0,320.9 L417.7,319.8 L419.4,318.7 L421.1,317.7 L422.8,316.6 L424.5,315.6 L426.2,314.5 L427.9,313.5 L429.6,312.4 L431.3,311.4 L433.0,310.3 L434.7,309.3 L436.4,308.2 L438.1,307.2 L439.8,306.1 L441.5,305.0 L443.2,304.0 L444.8,302.9 L446.5,301.8 L448.2,300.8 L449.9,299.7 L451.6,298.6 L453.2,297.5 L454.9,296.4 L456.6,295.3 L458.2,294.2 L459.9,293.1 L461.6,292.0 L463.2,290.9 L464.9,289.8 L466.5,288.7 L468.2,287.6 L469.8,286.5 L471.5,285.3 L473.1,284.2 L474.8,283.1 L476.4,282.0 L478.1,280.8 L479.7,279.7 L481.4,278.6 L483.0,277.4 L484.7,276.3 L486.3,275.2 L487.9,274.0 L489.6,272.9 L491.2,271.7 L492.8,270.6 L494.5,269.5 L496.1,268.3 L497.7,267.2 L499.4,266.0 L501.0,264.9 L502.6,263.7 L504.3,262.6 L505.9,261.4 L507.5,260.3 L509.2,259.1 L510.8,258.0 L512.4,256.8 L514.0,255.6 L515.7,254.5 L517.3,253.3 L518.9,252.2 L520.6,251.0 L522.2,249.9 L523.8,248.7 L525.5,247.6 L527.1,246.4 L528.7,245.3 L530.4,244.1 L532.0,242.9 L533.6,241.8 L535.3,240.6 L536.9,239.5 L538.5,238.3 L540.2,237.2 L541.8,236.0 L543.4,234.9 L545.1,233.8 L546.7,232.6 L548.4,231.5 L550.0,230.3 L551.6,229.2 L553.3,228.0 L554.9,226.9 L556.6,225.8 L558.2,224.6 L559.9,223.5 L561.5,222.4 L563.2,221.2 L564.8,220.1 L566.5,219.0 L568.1,217.9 L569.8,216.7 L571.4,215.6 L573.1,214.5 L574.8,213.4 L576.4,212.3 L578.1,211.2 L579.7,210.1 L581.4,209.0 L583.1,207.9 L584.7,206.8 L586.4,205.7 L588.1,204.6 L589.8,203.5 L591.4,202.4 L593.1,201.3 L594.8,200.3 L596.5,199.2 L598.2,198.1 L599.9,197.0 L601.6,196.0 L603.2,194.9 L604.9,193.9 L606.6,192.8 L608.3,191.8 L610.0,190.7 L611.7,189.7 L613.4,188.7 L615.2,187.6 L616.9,186.6 L618.6,185.6 L620.3,184.6 L622.0,183.5 L623.7,182.5 L625.5,181.5 L627.2,180.5 L628.9,179.5 L630.7,178.6 L632.4,177.6 L634.1,176.6 L635.9,175.6 L637.6,174.7 L639.4,173.7 L641.1,172.7 L642.9,171.8 L644.6,170.8 L646.4,169.9 L648.1,169.0 L649.9,168.1 L651.7,167.1 L653.5,166.2 L655.2,165.3 L657.0,164.4 L658.8,163.5 L660.6,162.6 L662.4,161.7 L664.2,160.9 L666.0,160.0 L667.8,159.1 L669.6,158.3 L671.4,157.4 L673.2,156.6 L675.0,155.7 L676.8,154.9 L678.7,154.1 L680.5,153.3 L682.3,152.4 L684.1,151.6 L686.0,150.8 L687.8,150.1 L689.6,149.3 L691.5,148.5 L693.3,147.7 L695.2,147.0 L697.0,146.2 L698.9,145.5 L700.7,144.7 L702.6,144.0 L704.5,143.3 L706.3,142.5 L708.2,141.8 L710.1,141.1 L711.9,140.4 L713.8,139.7 L715.7,139.0 L717.6,138.4 L719.5,137.7 L721.3,137.0 L723.2,136.4 L725.1,135.7 L727.0,135.1 L728.9,134.5 L730.8,133.8 L732.7,133.2 L734.6,132.6 L736.5,132.0 L738.4,131.4 L740.3,130.8 L742.2,130.3 L744.1,129.7 L746.1,129.1 L748.0,128.6 L749.9,128.0 L751.8,127.5 L753.7,126.9 L755.6,126.4 L757.6,125.9 L759.5,125.4 L761.4,124.9 L763.4,124.4 L765.3,123.9 L767.2,123.5 L769.2,123.0 L771.1,122.5 L773.0,122.1 L775.0,121.7 L776.9,121.3 L778.9,120.8 L780.8,120.4 L782.8,120.1 L784.7,119.7 L786.7,119.3 L788.6,119.0 L790.6,118.6 L792.6,118.3 L794.5,118.0 L796.5,117.7 L798.5,117.4 L800.5,117.2 L802.5,116.9 L804.4,116.7 L806.4,116.4 L808.4,116.2 L810.4,116.0 L812.4,115.9 L814.4,115.7 L816.4,115.6 L818.5,115.4 L820.5,115.3 L822.5,115.2 L824.5,115.2 L826.6,115.1 L828.6,115.1 L830.6,115.1 L832.7,115.1 L834.7,115.1 L836.8,115.2 L838.8,115.3 L840.8,115.4 L842.7,115.7 L844.7,116.0 L846.5,116.5 L848.3,117.1 L850.1,117.8 L851.7,118.6 L853.3,119.6 L854.8,120.8 L856.1,122.1 L857.4,123.6 L858.4,125.2 L859.3,127.0 L860.0,128.9 L860.5,131.0 L860.8,133.1 L860.8,135.4 L860.5,137.7"/>
</g>
<text transform="translate(59.90 70.00) scale(0.9760 1)" style="font-family:'Liberation Serif',serif;font-size:25.50px;">1600</text><text transform="translate(59.90 133.90) scale(0.9760 1)" style="font-family:'Liberation Serif',serif;font-size:25.50px;">1400</text><text transform="translate(59.90 197.00) scale(0.9760 1)" style="font-family:'Liberation Serif',serif;font-size:25.50px;">1200</text><text transform="translate(59.90 262.00) scale(0.9760 1)" style="font-family:'Liberation Serif',serif;font-size:25.50px;">1000</text><text transform="translate(72.59 325.10) scale(0.9760 1)" style="font-family:'Liberation Serif',serif;font-size:25.50px;">800</text><text transform="translate(72.59 388.00) scale(0.9760 1)" style="font-family:'Liberation Serif',serif;font-size:25.50px;">600</text><text transform="translate(72.59 453.00) scale(0.9760 1)" style="font-family:'Liberation Serif',serif;font-size:25.50px;">400</text><text transform="translate(72.59 516.20) scale(0.9760 1)" style="font-family:'Liberation Serif',serif;font-size:25.50px;">200</text><text transform="translate(166.10 569.70) scale(0.9540 1)" style="font-family:'Liberation Serif',serif;font-size:25.50px;">0</text><text transform="translate(251.00 569.70) scale(0.9540 1)" style="font-family:'Liberation Serif',serif;font-size:25.50px;">2</text><text transform="translate(335.30 569.70) scale(0.9540 1)" style="font-family:'Liberation Serif',serif;font-size:25.50px;">4</text><text transform="translate(428.30 569.70) scale(0.9540 1)" style="font-family:'Liberation Serif',serif;font-size:25.50px;">6</text><text transform="translate(512.80 569.70) scale(0.9540 1)" style="font-family:'Liberation Serif',serif;font-size:25.50px;">8</text><text transform="translate(589.72 569.70) scale(0.9540 1)" style="font-family:'Liberation Serif',serif;font-size:25.50px;">10</text><text transform="translate(678.10 569.70) scale(0.9540 1)" style="font-family:'Liberation Serif',serif;font-size:25.50px;">12</text><text transform="translate(758.82 569.70) scale(0.9540 1)" style="font-family:'Liberation Serif',serif;font-size:25.50px;">14</text><text transform="translate(847.12 569.70) scale(0.9540 1)" style="font-family:'Liberation Serif',serif;font-size:25.50px;">16</text><text transform="translate(325.15 57.30) scale(0.9540 1)" style="font-family:'Liberation Serif',serif;font-size:25.50px;">3</text><text transform="translate(396.30 84.70) scale(0.9540 1)" style="font-family:'Liberation Serif',serif;font-size:25.50px;">4</text><text transform="translate(570.70 165.90) scale(0.9540 1)" style="font-family:'Liberation Serif',serif;font-size:25.50px;">5</text><text transform="translate(706.80 185.20) scale(0.9540 1)" style="font-family:'Liberation Serif',serif;font-size:25.50px;">6</text><text transform="translate(708.65 235.50) scale(0.9540 1)" style="font-family:'Liberation Serif',serif;font-size:25.50px;">1</text><text transform="translate(871.90 141.80) scale(0.9540 1)" style="font-family:'Liberation Serif',serif;font-size:25.50px;">2</text>
<text y="319.60" style="font-family:'Liberation Serif','Noto Serif CJK SC',serif;font-size:23.00px"><tspan x="614.50">1</tspan><tspan x="624.90" dy="-1.8" style="font-size:25.40px">——</tspan><tspan x="675.35" dy="1.8">forged</tspan></text><text y="354.00" style="font-family:'Liberation Serif','Noto Serif CJK SC',serif;font-size:23.00px"><tspan x="615.00">2</tspan><tspan x="624.90" dy="-1.8" style="font-size:25.40px">——</tspan><tspan x="676.35" dy="1.8">solution</tspan></text><text y="387.00" style="font-family:'Liberation Serif','Noto Serif CJK SC',serif;font-size:23.00px"><tspan x="614.50">3</tspan><tspan x="624.90" dy="-1.8" style="font-size:25.40px">——</tspan><tspan x="675.60" dy="1.8">aged</tspan> <tspan x="729.50">at</tspan> <tspan x="754.80">500</tspan><tspan x="789.00" style="font-size:25.0px">℃</tspan></text><text y="420.00" style="font-family:'Liberation Serif','Noto Serif CJK SC',serif;font-size:23.00px"><tspan x="615.00">4</tspan><tspan x="624.90" dy="-1.8" style="font-size:25.40px">——</tspan><tspan x="675.60" dy="1.8">aged</tspan> <tspan x="729.50">at</tspan> <tspan x="754.80">550</tspan><tspan x="789.00" style="font-size:25.0px">℃</tspan></text><text y="453.80" style="font-family:'Liberation Serif','Noto Serif CJK SC',serif;font-size:23.00px"><tspan x="614.50">5</tspan><tspan x="624.90" dy="-1.8" style="font-size:25.40px">——</tspan><tspan x="675.60" dy="1.8">aged</tspan> <tspan x="729.50">at</tspan> <tspan x="754.80">600</tspan><tspan x="789.00" style="font-size:25.0px">℃</tspan></text><text y="486.50" style="font-family:'Liberation Serif','Noto Serif CJK SC',serif;font-size:23.00px"><tspan x="614.50">6</tspan><tspan x="624.90" dy="-1.8" style="font-size:25.40px">——</tspan><tspan x="675.60" dy="1.8">aged</tspan> <tspan x="729.50">at</tspan> <tspan x="754.80">650</tspan><tspan x="789.00" style="font-size:25.0px">℃</tspan></text>
<text y="622.20" style="font-family:'Liberation Sans','Noto Sans CJK SC',sans-serif;font-size:30px;font-weight:400;stroke:#111;stroke-width:0.25px"><tspan x="138.80">图</tspan> <tspan x="181.00" dy="2.7" style="font-family:'IPAGothic',sans-serif;font-size:32px;stroke-width:0.8px">1</tspan> <tspan x="230.00" dy="-2.7" style="letter-spacing:2.94px">某高强韧锆合金不同温度条件应变曲线图</tspan></text>
</svg>
</body></html>
